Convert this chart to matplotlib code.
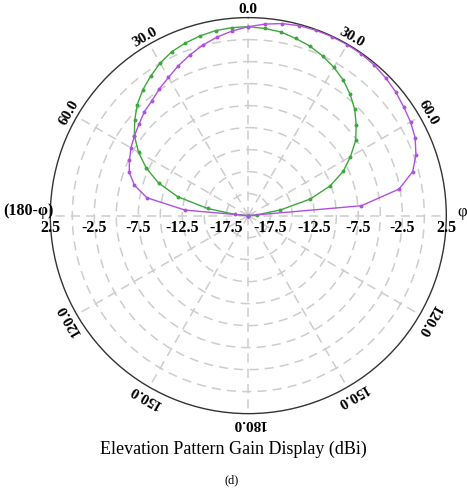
import numpy as np
import matplotlib
matplotlib.use("Agg")
import matplotlib.pyplot as plt
from matplotlib import transforms

# angles in degrees, clockwise from the top (negative = left half)
angles = list(range(-90, 95, 5))

green_gain = [-20.0, -18.5, -15.3, -11.7, -9.15, -7.2, -5.6, -4.2, -3.15, -2.15,
              -1.35, -0.65, 0.03, 0.56, 0.88, 1.15, 1.35, 1.44, 1.47,
              1.35, 1.2, 0.84, 0.5, 0.0, -0.54, -1.2, -2.0, -2.9,
              -4.0, -5.1, -6.6, -8.1, -10.1, -12.7, -16.3, -19.0, -20.0]

purple_gain = [-20.0, -12.8, -8.3, -6.6, -5.6, -5.1, -4.6, -4.2, -3.8, -3.3,
               -2.96, -2.4, -1.86, -1.2, -0.58, 0.05, 0.59, 1.06, 1.47,
               1.85, 2.16, 2.35, 2.42, 2.45, 2.45, 2.42, 2.3, 2.1,
               1.87, 1.55, 1.29, 0.92, 0.27, -0.66, -2.6, -7.1, -20.0]

theta_ticks = [0, 30, 60, 120, 150, 180, 210, 240, 300, 330]
theta_labels = ["0.0", "30.0", "60.0", "120.0", "150.0", "180.0",
                "150.0", "120.0", "60.0", "30.0"]
r_ticks = [-17.5, -12.5, -7.5, -2.5, 2.5]
r_tick_labels = ["-17.5", "-12.5", "-7.5", "-2.5", "2.5"]

plt.rcParams['font.family'] = ['Liberation Serif', 'DejaVu Serif']

fig = plt.figure(figsize=(4.67, 4.89), dpi=100)
ax = fig.add_axes([0.1077, 0.152, 0.848, 0.81], projection='polar')
ax.set_theta_zero_location('N')
ax.set_theta_direction(-1)
ax.set_ylim(-20, 2.5)

th = np.radians(angles)
ax.plot(th, green_gain, color='#3ca83c', lw=1.0, marker='o', ms=1.8, zorder=3)
ax.plot(th, purple_gain, color='#b050e0', lw=1.0, marker='o', ms=1.8, zorder=3)

# grid
ax.set_rgrids(np.arange(-17.5, 2.5, 2.5), labels=[])
ax.set_thetagrids(range(0, 360, 30), labels=[])
ax.grid(True, color='#cdcdcd', lw=1.1, ls=(0, (6, 4)))
ax.spines['polar'].set_color('#333333')
ax.spines['polar'].set_linewidth(1.0)
ax.tick_params(length=0)

# theta labels, tangential
for t, lab in zip(theta_ticks, theta_labels):
    rot = -t if t <= 180 else 360 - t
    ax.text(np.radians(t), 3.55, lab, ha='center', va='center', weight='bold',
            rotation=rot, rotation_mode='anchor', fontsize=11, clip_on=False)

fig.text(457 / 467, 1 - 212 / 489, "\u03c6", ha='left', va='center', fontsize=12)
fig.text(54 / 467, 1 - 211 / 489, "(180-\u03c6)", ha='right', va='center',
         fontsize=11.5, weight='bold')

# radial labels on the horizontal axis, both sides
off = transforms.offset_copy(ax.transData, fig=fig, y=-2.5, units='points')
for side in (90, 270):
    for v, lab in zip(r_ticks, r_tick_labels):
        ax.text(np.radians(side), v, lab, transform=off, ha='center', va='top',
                fontsize=11.5, weight='bold', clip_on=False)

fig.text(0.5, 1 - 449 / 489, "Elevation Pattern Gain Display (dBi)",
         ha='center', va='center', fontsize=13)
fig.text(0.497, 1 - 480 / 489, "(d)", ha='center', va='center', fontsize=9)

fig.savefig("out.png", dpi=100)
